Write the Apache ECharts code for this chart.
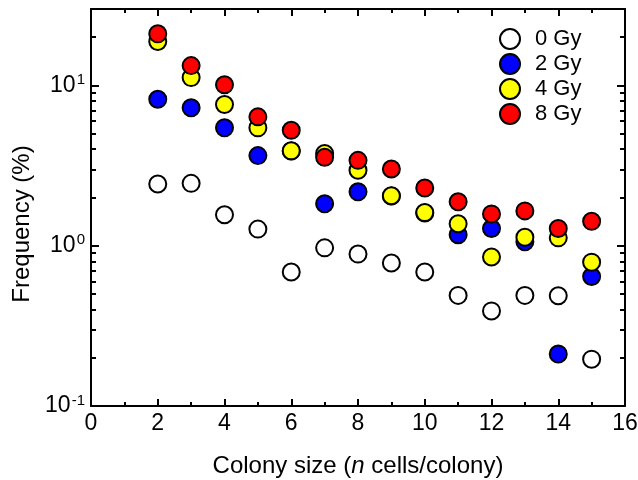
<!DOCTYPE html>
<html>
<head>
<meta charset="utf-8">
<script src="https://cdn.jsdelivr.net/npm/echarts@6/dist/echarts.min.js"></script>
<style>html,body{margin:0;padding:0;background:#fff}#c{width:638px;height:480px}</style>
</head>
<body>
<div id="c"></div>
<script>
const colonySize = [2, 3, 4, 5, 6, 7, 8, 9, 10, 11, 12, 13, 14, 15];
const gy0 = [2.43, 2.45, 1.56, 1.27, 0.685, 0.97, 0.887, 0.78, 0.685, 0.49, 0.392, 0.49, 0.487, 0.196];
const gy2 = [8.2, 7.26, 5.44, 3.65, 3.9, 1.83, 2.17, 2.04, 1.6, 1.17, 1.28, 1.06, 0.211, 0.643];
const gy4 = [18.8, 11.2, 7.6, 5.44, 3.91, 3.76, 2.96, 2.05, 1.61, 1.37, 0.85, 1.13, 1.12, 0.79];
const gy8 = [21.0, 13.3, 10.1, 6.37, 5.26, 3.56, 3.41, 3.01, 2.29, 1.88, 1.58, 1.65, 1.28, 1.42];
const seriesNames = ['0 Gy', '2 Gy', '4 Gy', '8 Gy'];
const seriesColors = ['#ffffff', '#0000ff', '#ffff00', '#ff0000'];
const yMajorTicks = [0.1, 1, 10];
const yMinorTicks = [0.2, 0.3, 0.4, 0.5, 0.6, 0.7, 0.8, 0.9, 2, 3, 4, 5, 6, 7, 8, 9, 20];
const yMin = 0.1, yMax = 30;

const font = 'Liberation Sans, Arial, sans-serif';
const lg = v => Math.log10(v);
const allSeries = [gy0, gy2, gy4, gy8];

function tickAxis(position, values, len, showLine, showLabel) {
  return {
    type: 'value', position: position,
    min: lg(yMin), max: lg(yMax),
    axisLine: {show: showLine, lineStyle: {color: '#000', width: 2}},
    axisTick: {show: true, inside: true, length: len, customValues: values.map(lg), lineStyle: {color: '#000', width: 2}},
    axisLabel: showLabel ? {
      show: true, customValues: yMajorTicks.map(lg), margin: 6,
      formatter: v => '{b|10}{s|' + Math.round(v) + '}',
      rich: {
        b: {fontSize: 23, fontFamily: font, color: '#000', lineHeight: 26},
        s: {fontSize: 15, fontFamily: font, color: '#000', verticalAlign: 'top', lineHeight: 26, padding: [0, 0, 9, 1]}
      }
    } : {show: false},
    splitLine: {show: false}
  };
}

const yAxes = [
  {type: 'log', logBase: 10, min: yMin, max: yMax, show: false},
  Object.assign(tickAxis('left', yMajorTicks, 8, true, true), {
    name: 'Frequency (%)', nameLocation: 'middle', nameGap: 53,
    nameTextStyle: {fontSize: 24, fontFamily: font, color: '#000', padding: [0, 33, 0, 0]}
  }),
  tickAxis('left', yMinorTicks, 5, false, false),
  tickAxis('right', yMajorTicks, 8, true, false),
  tickAxis('right', yMinorTicks, 5, false, false)
];

function xAx(position, showLabel) {
  return {
    type: 'value', position: position, min: 0, max: 16, interval: 2,
    axisLine: {show: true, onZero: false, lineStyle: {color: '#000', width: 2}},
    axisTick: {show: true, inside: true, length: 7, lineStyle: {color: '#000', width: 2}},
    minorTick: {show: true, splitNumber: 2, length: 4, lineStyle: {color: '#000', width: 2}},
    axisLabel: {show: showLabel, fontSize: 23, fontFamily: font, color: '#000', margin: 6},
    splitLine: {show: false}, minorSplitLine: {show: false}
  };
}
const xBottom = Object.assign(xAx('bottom', true), {
  name: '{a|Colony size (}{i|n}{a| cells/colony)}', nameLocation: 'middle', nameGap: 48,
  nameTextStyle: {rich: {
    a: {fontSize: 24, fontFamily: font, color: '#000'},
    i: {fontSize: 24, fontFamily: font, color: '#000', fontStyle: 'italic'}
  }}
});

const chart = echarts.init(document.getElementById('c'), null, {renderer: 'canvas'});
chart.setOption({
  animation: false,
  backgroundColor: '#fff',
  grid: {left: 91, right: 13, top: 9, bottom: 74, containLabel: false, outerBoundsMode: 'none'},
  xAxis: [xBottom, xAx('top', false)],
  yAxis: yAxes,
  legend: {
    orient: 'vertical', left: 494, top: 23, itemWidth: 20, itemHeight: 20, itemGap: 3,
    icon: 'circle',
    textStyle: {fontSize: 22, fontFamily: font, color: '#000', padding: [0, 0, 0, 10]},
    data: seriesNames
  },
  series: allSeries.map((vals, i) => ({
    name: seriesNames[i], type: 'scatter', xAxisIndex: 0, yAxisIndex: 0,
    symbol: 'circle', symbolSize: 17,
    itemStyle: {color: seriesColors[i], borderColor: '#000', borderWidth: 2, opacity: 1},
    data: colonySize.map((x, j) => [x, vals[j]])
  }))
});
</script>
</body>
</html>
